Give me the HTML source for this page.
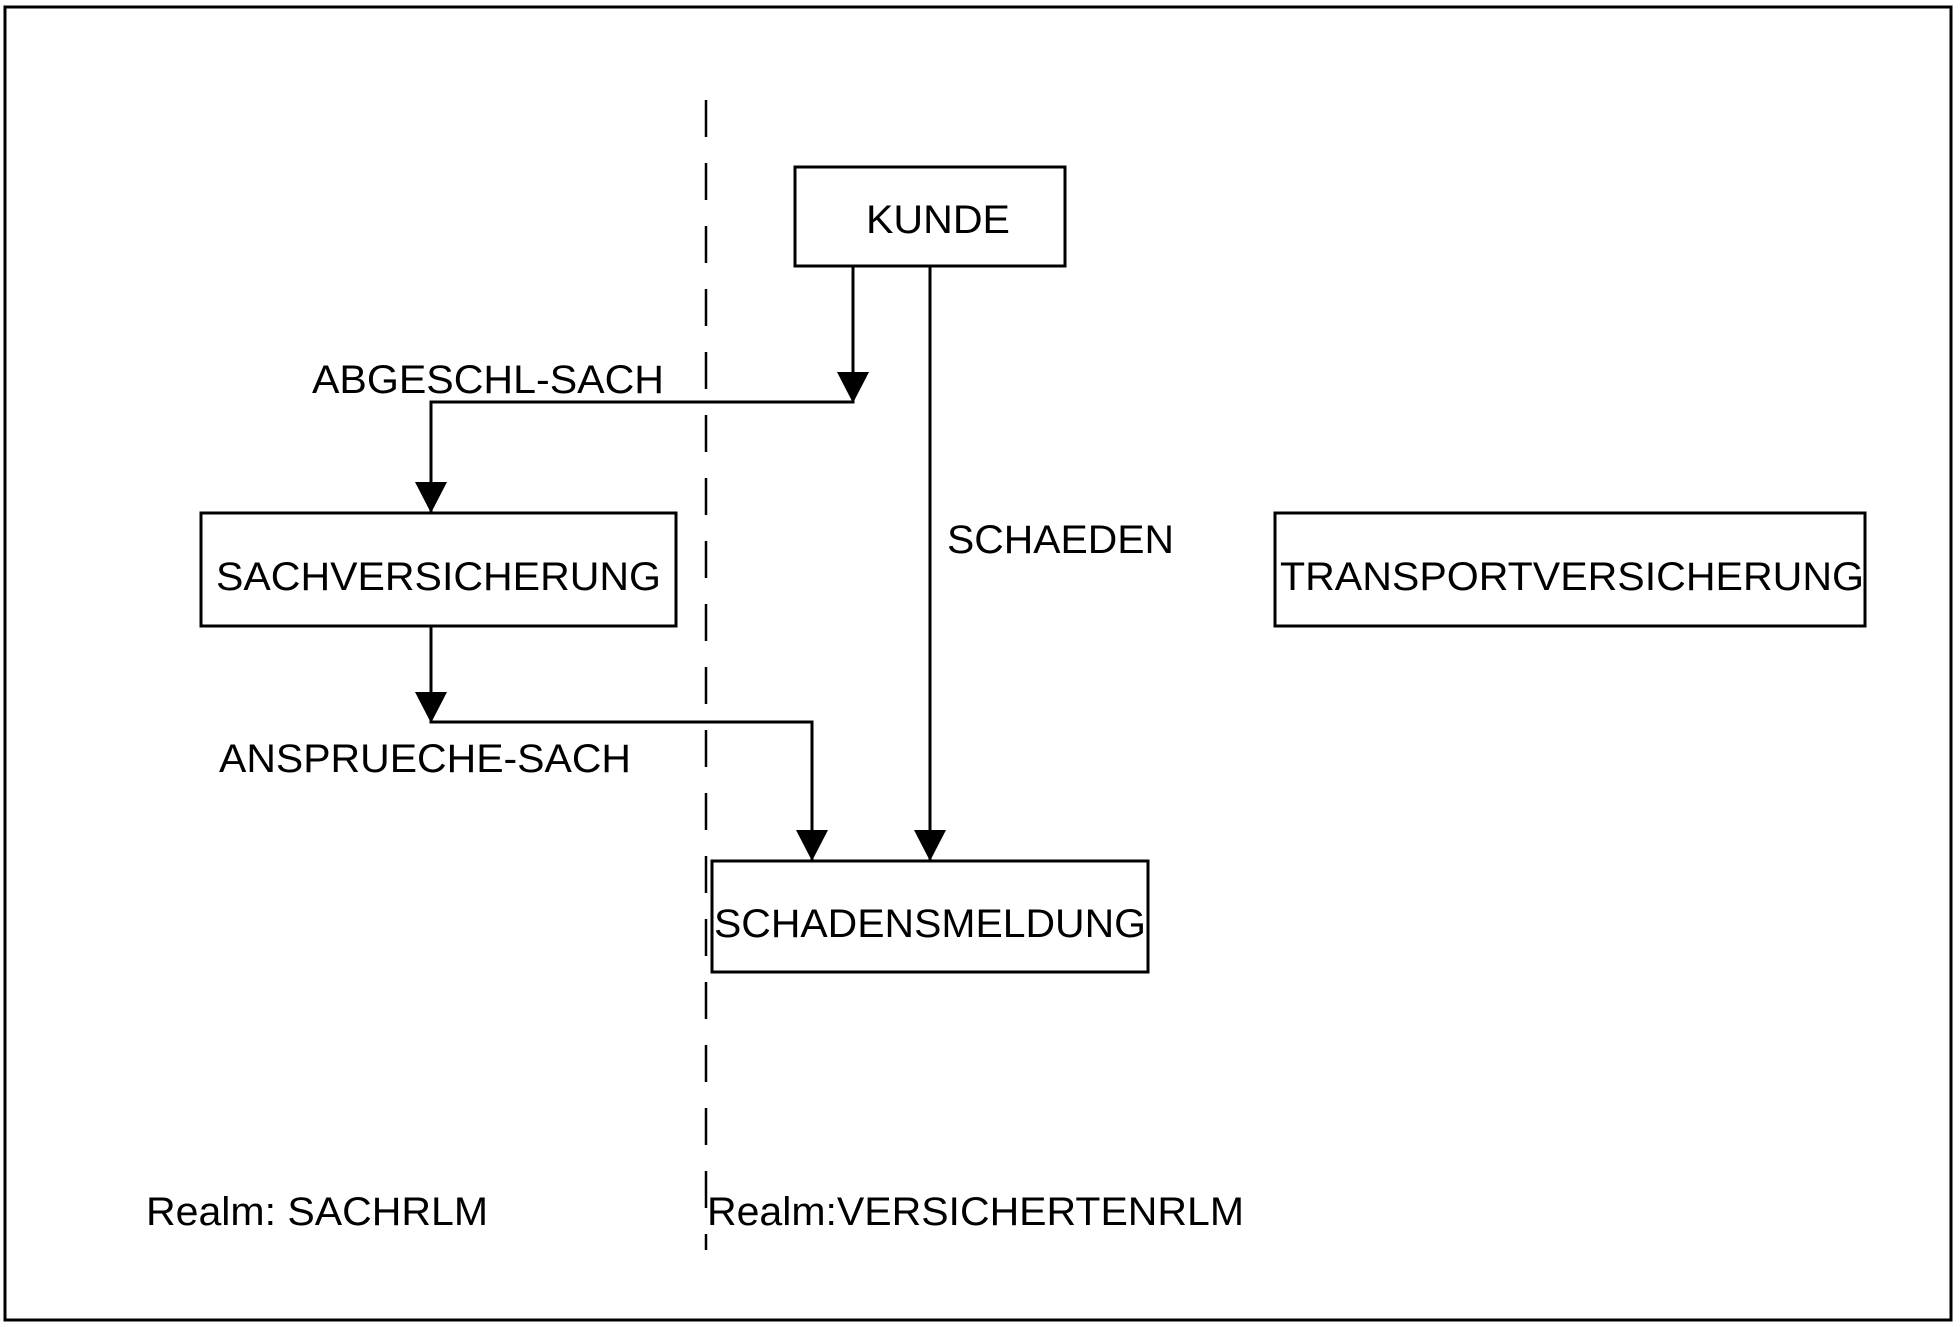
<!DOCTYPE html>
<html><head><meta charset="utf-8"><style>
html,body{margin:0;padding:0;background:#fff;}
svg{display:block;}
text{font-family:"Liberation Sans",Arial,sans-serif;font-size:40px;fill:#000;}
</style></head><body>
<svg width="1960" height="1327" viewBox="0 0 1960 1327" xmlns="http://www.w3.org/2000/svg">
<rect x="5" y="7" width="1946" height="1313" fill="#fff" stroke="#000" stroke-width="3"/>
<line x1="706" y1="100" x2="706" y2="1250" stroke="#000" stroke-width="2.5" stroke-dasharray="37,26"/>
<g fill="none" stroke="#000" stroke-width="3">
<rect x="795" y="167" width="270" height="99"/>
<rect x="201" y="513" width="475" height="113"/>
<rect x="1275" y="513" width="590" height="113"/>
<rect x="712" y="861" width="436" height="111"/>
<polyline points="853,266 853,402 431,402 431,512"/>
<polyline points="431,626 431,722 812,722 812,861"/>
<line x1="930" y1="266" x2="930" y2="861"/>
</g>
<g fill="#000">
<polygon points="837,372 869,372 853,403"/>
<polygon points="415,482 447,482 431,513"/>
<polygon points="415,692 447,692 431,723"/>
<polygon points="796,830 828,830 812,861"/>
<polygon points="914,830 946,830 930,861"/>
</g>
<text x="866" y="233" textLength="144" lengthAdjust="spacingAndGlyphs">KUNDE</text>
<text x="312" y="393" textLength="352" lengthAdjust="spacingAndGlyphs">ABGESCHL-SACH</text>
<text x="216" y="590" textLength="445" lengthAdjust="spacingAndGlyphs">SACHVERSICHERUNG</text>
<text x="947" y="553" textLength="227" lengthAdjust="spacingAndGlyphs">SCHAEDEN</text>
<text x="1280" y="590" textLength="584" lengthAdjust="spacingAndGlyphs">TRANSPORTVERSICHERUNG</text>
<text x="219" y="772" textLength="412" lengthAdjust="spacingAndGlyphs">ANSPRUECHE-SACH</text>
<text x="714" y="937" textLength="432" lengthAdjust="spacingAndGlyphs">SCHADENSMELDUNG</text>
<text x="146" y="1225" textLength="342" lengthAdjust="spacingAndGlyphs">Realm: SACHRLM</text>
<text x="707" y="1225" textLength="537" lengthAdjust="spacingAndGlyphs">Realm:VERSICHERTENRLM</text>
</svg>
</body></html>
